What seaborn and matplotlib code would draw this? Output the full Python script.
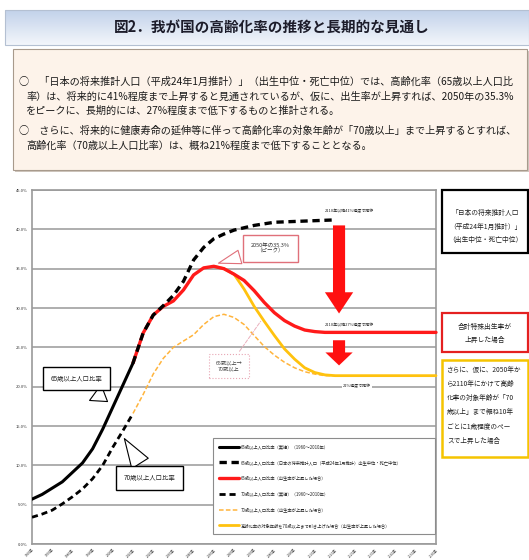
import numpy as np
import pandas as pd
import matplotlib
matplotlib.use("Agg")
import matplotlib.pyplot as plt
from matplotlib.patches import Rectangle
from matplotlib.colors import LinearSegmentedColormap
from matplotlib.ticker import MultipleLocator
import seaborn as sns

# ---- data (高齢化率, %) ----
years_65_actual = [1960, 1965, 1970, 1975, 1980, 1985, 1990, 1995, 2000, 2005, 2010]
rate_65_actual = [5.7, 6.3, 7.1, 7.9, 9.1, 10.3, 12.1, 14.6, 17.4, 20.2, 23.0]

years_65_proj = [2010, 2015, 2020, 2025, 2030, 2035, 2040, 2045, 2050, 2055, 2060,
                 2070, 2080, 2090, 2100, 2110]
rate_65_proj = [23.0, 26.8, 29.1, 30.3, 31.6, 33.4, 36.1, 37.7, 38.8, 39.4, 39.9,
                40.5, 40.9, 41.0, 41.1, 41.2]

years_65_up = [2010, 2015, 2020, 2025, 2030, 2035, 2040, 2045, 2050, 2055, 2060,
               2065, 2070, 2075, 2080, 2085, 2090, 2095, 2100, 2105, 2110, 2160]
rate_65_up = [23.0, 26.8, 29.1, 30.2, 30.9, 32.3, 34.2, 35.1, 35.3, 35.0, 34.3,
              33.5, 32.2, 30.7, 29.4, 28.4, 27.7, 27.2, 27.0, 26.9, 26.9, 26.9]

years_70_actual = [1960, 1965, 1970, 1975, 1980, 1985, 1990, 1995, 2000, 2005, 2010]
rate_70_actual = [3.4, 3.8, 4.3, 5.1, 6.0, 7.0, 8.3, 10.0, 12.3, 14.4, 16.6]

years_70_up = [2010, 2015, 2020, 2025, 2030, 2035, 2040, 2045, 2050, 2055, 2060,
               2065, 2070, 2075, 2080, 2085, 2090, 2095, 2100, 2105, 2110]
rate_70_up = [16.6, 19.0, 21.6, 23.6, 25.0, 25.8, 26.6, 27.9, 28.9, 29.2, 28.8,
              27.9, 26.5, 25.1, 24.0, 23.1, 22.4, 21.9, 21.6, 21.4, 21.4]

years_shift = [2050, 2055, 2060, 2065, 2070, 2075, 2080, 2085, 2090, 2095, 2100,
               2105, 2110, 2160]
rate_shift = [35.3, 35.0, 34.3, 32.4, 30.2, 28.3, 26.5, 24.8, 23.5, 22.4, 21.8,
              21.5, 21.4, 21.4]

series_labels = [
    "65歳以上人口比率（実績）（1960～2010年）",
    "65歳以上人口比率（日本の将来推計人口（平成24年1月推計）出生中位・死亡中位）",
    "65歳以上人口比率（出生率が上昇した場合）",
    "70歳以上人口比率（実績）（1960～2010年）",
    "70歳以上人口比率（出生率が上昇した場合）",
    "高齢化率の対象年齢を70歳以上まで引き上げた場合（出生率が上昇した場合）",
]

x_tick_years = list(range(1960, 2161, 10))
y_tick_values = list(range(0, 46, 5))

title_text = "図2．我が国の高齢化率の推移と長期的な見通し"
summary_lines = [
    "○　「日本の将来推計人口（平成24年1月推計）」（出生中位・死亡中位）では、高齢化率（65歳以上人口比",
    "率）は、将来的に41%程度まで上昇すると見通されているが、仮に、出生率が上昇すれば、2050年の35.3%",
    "をピークに、長期的には、27%程度まで低下するものと推計される。",
    "○　さらに、将来的に健康寿命の延伸等に伴って高齢化率の対象年齢が「70歳以上」まで上昇するとすれば、",
    "高齢化率（70歳以上人口比率）は、概ね21%程度まで低下することとなる。",
]

# ---- style ----
sns.set_theme(style="white")
plt.rcParams["font.family"] = ["Noto Sans CJK JP", "DejaVu Sans"]

W, H = 529, 560
fig = plt.figure(figsize=(W / 100, H / 100), dpi=100)
fig.patch.set_facecolor("white")


def fx(px):
    return px / W


def fy(py):
    return 1 - py / H


# ---- header bar with gradient ----
hax = fig.add_axes([fx(5), fy(45), fx(524), 35 / H])
grad = np.linspace(0, 1, 64).reshape(-1, 1)
hax.imshow(grad, aspect="auto", extent=[0, 1, 0, 1],
           cmap=LinearSegmentedColormap.from_list("hdr", ["#c2d2ea", "#f3f6fb"]))
hax.set_axis_off()
fig.add_artist(Rectangle((fx(5), fy(45)), fx(524), 35 / H, transform=fig.transFigure,
                         fill=False, ec="#b4c0d2", lw=0.8))
fig.text(fx(272), fy(28), title_text, ha="center", va="center", fontsize=10.5,
         fontweight="bold", color="#1c1c2a")

# ---- summary box ----
fig.add_artist(Rectangle((fx(15), fy(172)), fx(514), 121 / H, transform=fig.transFigure,
                         fc="#cfc6bd", ec="none"))
fig.add_artist(Rectangle((fx(13), fy(170)), fx(514), 121 / H, transform=fig.transFigure,
                         fc="#fdf3ea", ec="#a89a8c", lw=0.8))
line_y = [82, 97, 111, 131, 146]
line_x = [19, 26, 26, 19, 26]
for txt, ly, lx in zip(summary_lines, line_y, line_x):
    fig.text(fx(lx), fy(ly), txt, ha="left", va="center", fontsize=7.3, color="#1a1a1a")

# ---- main chart ----
ax = fig.add_axes([fx(32), fy(544), fx(404), 354 / H])
ax.set_facecolor("white")

sns.lineplot(x=years_65_actual, y=rate_65_actual, color="black", linewidth=2.2,
             label=series_labels[0], ax=ax, zorder=6)
sns.lineplot(x=years_65_proj, y=rate_65_proj, color="black", linewidth=2.4,
             linestyle=(0, (2.2, 1.4)), label=series_labels[1], ax=ax, zorder=6)
sns.lineplot(x=years_65_up, y=rate_65_up, color="#ff1a1a", linewidth=2.4,
             label=series_labels[2], ax=ax, zorder=5, clip_on=False)
sns.lineplot(x=years_70_actual, y=rate_70_actual, color="black", linewidth=2.0,
             linestyle=(0, (2.2, 1.4)), label=series_labels[3], ax=ax, zorder=6)
sns.lineplot(x=years_70_up, y=rate_70_up, color="#ffb43c", linewidth=1.1,
             linestyle=(0, (3, 1.5)), label=series_labels[4], ax=ax, zorder=4)
sns.lineplot(x=years_shift, y=rate_shift, color="#ffc20e", linewidth=2.0,
             label=series_labels[5], ax=ax, zorder=4, clip_on=False)

ax.set_xlim(1960, 2160)
ax.set_ylim(0, 45)
ax.set_xticks(x_tick_years)
ax.set_xticklabels([f"{y}年" for y in x_tick_years], rotation=45, ha="right",
                   rotation_mode="anchor", fontsize=2.4, color="#333333")
ax.set_yticks(y_tick_values)
ax.set_yticklabels([f"{v:.1f}%" for v in y_tick_values], fontsize=3, color="#333333")
ax.xaxis.set_minor_locator(MultipleLocator(50))
ax.tick_params(axis="both", which="major", length=2, width=0.6, color="#888888", pad=1.2)
ax.tick_params(axis="x", which="major", pad=0.8)
ax.tick_params(axis="x", which="minor", length=0)
ax.grid(axis="y", which="major", color="#a8a8a8", linewidth=1.3)
ax.grid(axis="x", which="minor", color="#a8a8a8", linewidth=1.3)
ax.set_axisbelow(True)
for s in ax.spines.values():
    s.set_color("#9a9a9a")
    s.set_linewidth(1.2)
ax.set_xlabel("")
ax.set_ylabel("")

# ---- big red arrows ----
ax.arrow(2112, 40.5, 0, -11.2, width=6, head_width=14, head_length=2.7,
         length_includes_head=True, fc="#ff1010", ec="none", zorder=8)
ax.arrow(2112, 25.9, 0, -3.2, width=6, head_width=13.5, head_length=1.65,
         length_includes_head=True, fc="#ff1010", ec="none", zorder=8)

ax.text(2117, 42.4, "2110年以降41%程度で推移", fontsize=2.9, ha="center", va="center",
        color="#222222", zorder=9)
ax.text(2117, 27.8, "2110年以降27%程度で推移", fontsize=2.9, ha="center", va="center",
        color="#222222", zorder=9)
ax.text(2121, 20.1, "21%程度で推移", fontsize=2.9, ha="center", va="center",
        color="#222222", zorder=9,
        bbox=dict(boxstyle="square,pad=0.2", fc="white", ec="none"))

# ---- callouts ----
ax.annotate("65歳以上人口比率", xy=(1998.5, 17.9), xytext=(1982, 21.0),
            ha="center", va="center", fontsize=4.6, zorder=9,
            bbox=dict(boxstyle="square,pad=1.2", fc="white", ec="black", lw=1),
            arrowprops=dict(arrowstyle="wedge,tail_width=1.4", mutation_scale=10,
                            fc="white", ec="black", lw=0.8))
ax.annotate("70歳以上人口比率", xy=(2005, 13.7), xytext=(2018, 8.4),
            ha="center", va="center", fontsize=4.6, zorder=9,
            bbox=dict(boxstyle="square,pad=1.2", fc="white", ec="black", lw=1),
            arrowprops=dict(arrowstyle="wedge,tail_width=1.4", mutation_scale=10,
                            fc="white", ec="black", lw=0.8))
ax.annotate("2050年の35.3%\n（ピーク）", xy=(2051, 35.6), xytext=(2078, 37.6),
            ha="center", va="center", fontsize=4, zorder=9, color="#333333",
            bbox=dict(boxstyle="square,pad=1.4", fc="white", ec="#e0707a", lw=1),
            arrowprops=dict(arrowstyle="wedge,tail_width=1.0", mutation_scale=10,
                            fc="white", ec="#e0707a", lw=0.8))
ax.annotate("65歳以上→\n70歳以上", xy=(2074, 28.6), xytext=(2057.5, 22.6),
            ha="center", va="center", fontsize=3.8, zorder=9, color="#444444",
            bbox=dict(boxstyle="square,pad=1.3", fc="white", ec="#e8a6b4", lw=0.8, ls=":"),
            arrowprops=dict(arrowstyle="-", color="#eab0bc", lw=0.7, ls="--"))

# ---- legend ----
leg = ax.legend(loc="upper left", bbox_to_anchor=(0.448, 0.2994, 0.55, 0), mode="expand",
                fontsize=3.1, handlelength=4.6, handletextpad=0.5, labelspacing=2.5,
                borderpad=1.4, frameon=True, fancybox=False, edgecolor="#8c8c8c",
                framealpha=1, borderaxespad=0)
leg.get_frame().set_linewidth(0.8)
leg.set_zorder(10)

# ---- side boxes ----
def side_box(x0, y0, x1, y1, ec, lw):
    fig.add_artist(Rectangle((fx(x0), fy(y1)), fx(x1 - x0), (y1 - y0) / H,
                             transform=fig.transFigure, fc="white", ec=ec, lw=lw))


side_box(442, 190, 528, 253, "black", 1.6)
for t, ly in zip(["「日本の将来推計人口", "（平成24年1月推計）」", "（出生中位・死亡中位）"],
                 [213, 227, 240]):
    fig.text(fx(485), fy(ly), t, ha="center", va="center", fontsize=4.9, color="#222222")

side_box(442, 313, 528, 352, "#e42020", 1.6)
for t, ly in zip(["合計特殊出生率が", "上昇した場合"], [327, 340]):
    fig.text(fx(485), fy(ly), t, ha="center", va="center", fontsize=4.9, color="#222222")

side_box(442, 360, 528, 457, "#f5c400", 1.8)
for t, ly in zip(["さらに、仮に、2050年か", "ら2110年にかけて高齢", "化率の対象年齢が「70",
                  "歳以上」まで概ね10年", "ごとに1歳程度のペー", "スで上昇した場合"],
                 [370, 384, 398, 412, 427, 441]):
    fig.text(fx(447), fy(ly), t, ha="left", va="center", fontsize=4.8, color="#222222")

fig.savefig("out.png", dpi=100)
